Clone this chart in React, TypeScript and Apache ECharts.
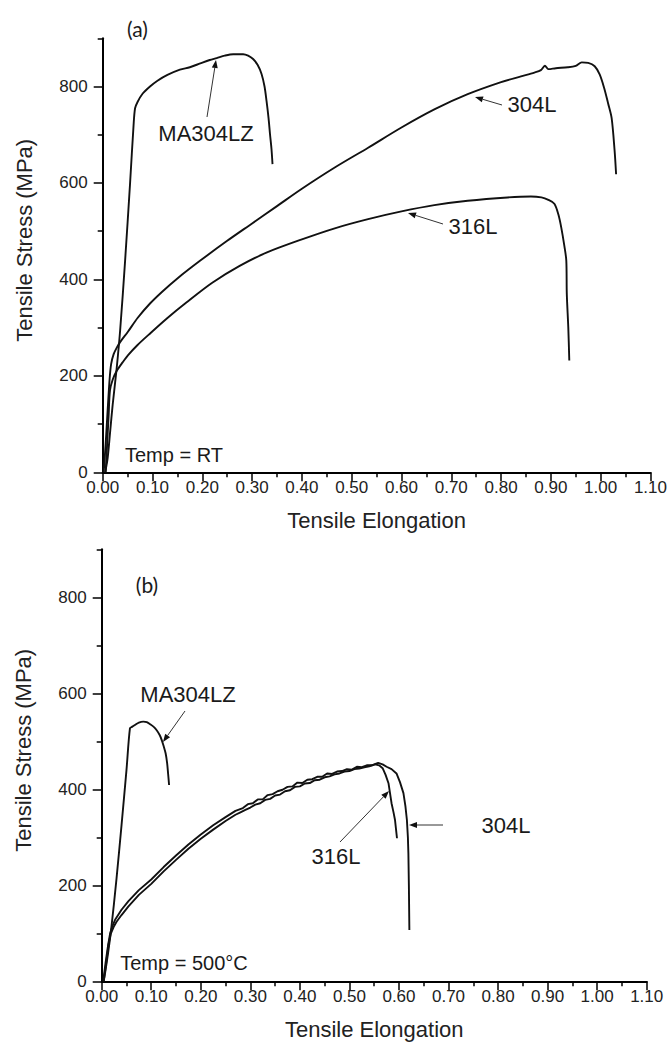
import React, { useEffect, useRef } from "react";
import * as echarts from "echarts";

// ---------- data ----------
const yMajorTicks = [0, 200, 400, 600, 800];
const yMinorTicks = [100, 300, 500, 700, 900];

// (a) room temperature  [elongation, stress MPa]
const ma304lzRT = [
  [0.005, 0], [0.010, 30], [0.015, 85], [0.020, 140], [0.028, 215], [0.035, 294],
  [0.045, 439], [0.055, 600], [0.062, 720], [0.065, 755], [0.070, 768], [0.080, 785],
  [0.095, 800], [0.110, 812], [0.130, 824], [0.155, 835], [0.175, 840], [0.196, 848],
  [0.215, 855], [0.229, 859], [0.245, 864], [0.262, 867], [0.282, 867], [0.292, 864],
  [0.302, 857], [0.311, 845], [0.319, 826], [0.325, 800], [0.329, 770], [0.333, 735],
  [0.336, 701], [0.339, 670], [0.341, 639],
];
const ss304lRT = [
  [0.002, 0], [0.006, 60], [0.010, 130], [0.014, 195], [0.017, 225], [0.022, 245],
  [0.028, 258], [0.035, 270], [0.051, 292], [0.070, 320], [0.095, 350], [0.120, 375],
  [0.150, 402], [0.196, 439], [0.250, 480], [0.300, 516], [0.350, 552], [0.400, 588],
  [0.466, 632], [0.533, 673], [0.600, 715], [0.667, 753], [0.733, 784], [0.800, 809],
  [0.840, 821], [0.867, 829], [0.880, 834], [0.888, 843], [0.895, 836], [0.910, 838],
  [0.934, 840], [0.950, 843], [0.962, 850], [0.975, 849], [0.988, 842], [0.998, 825],
  [1.007, 797], [1.015, 765], [1.022, 735], [1.028, 667], [1.031, 618],
];
const ss316lRT = [
  [0.006, 0], [0.009, 60], [0.012, 120], [0.0146, 170], [0.020, 192], [0.028, 210],
  [0.040, 228], [0.051, 243], [0.070, 264], [0.092, 285], [0.130, 320], [0.168, 352],
  [0.220, 393], [0.275, 428], [0.330, 456], [0.400, 483], [0.466, 506], [0.533, 525],
  [0.600, 541], [0.666, 554], [0.733, 563], [0.813, 570], [0.860, 572], [0.881, 570],
  [0.895, 565], [0.907, 557], [0.915, 535], [0.921, 507], [0.927, 470], [0.931, 439],
  [0.932, 370], [0.935, 300], [0.937, 232],
];

// (b) 500 °C
const ma304lz500 = [
  [0.004, 0], [0.008, 25], [0.013, 60], [0.019, 107], [0.030, 215], [0.040, 325],
  [0.050, 440], [0.057, 527], [0.061, 530], [0.067, 534], [0.075, 539], [0.084, 541],
  [0.091, 540], [0.097, 536], [0.105, 530], [0.111, 523], [0.117, 513], [0.121, 503],
  [0.125, 490], [0.129, 475], [0.132, 455], [0.134, 433], [0.136, 409],
];
const ss304l500 = [
  [0.003, 0], [0.008, 40], [0.013, 76], [0.017, 100], [0.022, 116], [0.027, 128],
  [0.040, 149], [0.054, 167], [0.075, 190], [0.100, 212], [0.125, 238], [0.150, 262],
  [0.175, 285], [0.200, 306], [0.225, 325], [0.250, 342], [0.270, 355], [0.285, 361],
  [0.295, 369], [0.305, 371], [0.315, 379], [0.325, 379], [0.335, 388], [0.345, 390],
  [0.355, 396], [0.365, 399], [0.375, 405], [0.385, 406], [0.395, 414], [0.405, 413],
  [0.415, 420], [0.425, 421], [0.435, 426], [0.445, 426], [0.455, 433], [0.465, 432],
  [0.475, 437], [0.485, 438], [0.495, 442], [0.505, 441], [0.515, 447], [0.525, 446],
  [0.535, 450], [0.545, 450], [0.558, 455], [0.567, 452], [0.575, 447], [0.585, 442],
  [0.595, 433], [0.602, 415], [0.609, 392], [0.613, 365], [0.616, 336], [0.618, 300],
  [0.619, 267], [0.620, 200], [0.621, 107],
];
const ss316l500 = [
  [0.004, 0], [0.009, 38], [0.014, 78], [0.018, 98], [0.024, 113], [0.030, 124],
  [0.040, 138], [0.054, 156], [0.075, 180], [0.100, 203], [0.125, 229], [0.150, 253],
  [0.175, 276], [0.200, 297], [0.225, 316], [0.250, 334], [0.270, 347], [0.280, 352],
  [0.290, 357], [0.300, 362], [0.310, 368], [0.320, 371], [0.330, 378], [0.340, 380],
  [0.350, 387], [0.360, 389], [0.370, 396], [0.380, 398], [0.390, 405], [0.400, 406],
  [0.410, 412], [0.420, 413], [0.430, 419], [0.440, 420], [0.450, 425], [0.460, 427],
  [0.470, 431], [0.480, 433], [0.490, 437], [0.500, 438], [0.510, 442], [0.520, 443],
  [0.530, 446], [0.540, 448], [0.552, 452], [0.560, 450], [0.567, 444], [0.573, 430],
  [0.579, 412], [0.585, 371], [0.589, 352], [0.592, 336], [0.594, 317], [0.596, 298],
];

// ---------- styling helpers ----------
const FONT = "'Liberation Sans', Arial, sans-serif";
const TAG_FONT = "Lato, 'Open Sans', sans-serif";
const INK = "#111";

function arrow(tail: number[], head: number[]) {
  const dx = head[0] - tail[0];
  const dy = head[1] - tail[1];
  const len = Math.hypot(dx, dy);
  const ux = dx / len, uy = dy / len;
  const hl = 8, hw = 3;
  const bx = head[0] - ux * hl, by = head[1] - uy * hl;
  return [
    { type: "line", silent: true, shape: { x1: tail[0], y1: tail[1], x2: bx, y2: by }, style: { stroke: "#333", lineWidth: 1 } },
    {
      type: "polygon", silent: true,
      shape: { points: [[head[0], head[1]], [bx - uy * hw, by + ux * hw], [bx + uy * hw, by - ux * hw]] },
      style: { fill: INK },
    },
  ];
}

function label(text: string, x: number, y: number, size = 22, family = FONT) {
  return {
    type: "text", silent: true, x, y,
    style: { text, fill: "#1a1a1a", font: `${size}px ${family}`, align: "center", verticalAlign: "middle" },
  };
}

function xAxis(gridIndex: number) {
  return {
    type: "value", gridIndex, min: 0, max: 1.1, interval: 0.1,
    axisLine: { show: true, onZero: false, lineStyle: { color: "#000", width: 2 } },
    axisTick: { show: true, inside: false, length: 9, lineStyle: { color: "#000", width: 1.5 } },
    minorTick: { show: true, splitNumber: 2, length: 5, lineStyle: { color: "#000", width: 1.5 } },
    splitLine: { show: false }, minorSplitLine: { show: false },
    axisLabel: { formatter: (v: number) => v.toFixed(2), fontSize: 17, color: "#222", margin: 7, fontFamily: FONT },
    name: "Tensile Elongation", nameLocation: "middle", nameGap: 37,
    nameTextStyle: { fontSize: 22, color: "#222", fontFamily: FONT },
  };
}

function yAxisMajor(gridIndex: number) {
  return {
    type: "value", gridIndex, min: 0, max: 900, position: "left",
    axisLine: { show: true, onZero: false, lineStyle: { color: "#000", width: 2 } },
    axisTick: { show: true, inside: false, length: 9, customValues: yMajorTicks, lineStyle: { color: "#000", width: 1.5 } },
    splitLine: { show: false },
    axisLabel: { customValues: yMajorTicks, fontSize: 17, color: "#222", margin: 15, fontFamily: FONT },
    name: "Tensile Stress (MPa)", nameLocation: "middle", nameGap: 67,
    nameTextStyle: { fontSize: 22, color: "#222", fontFamily: FONT, padding: [0, 0, 0, 30] },
  };
}

function yAxisMinor(gridIndex: number) {
  return {
    type: "value", gridIndex, min: 0, max: 900, position: "left",
    axisLine: { show: false },
    axisTick: { show: true, inside: false, length: 5, customValues: yMinorTicks, lineStyle: { color: "#000", width: 1.5 } },
    splitLine: { show: false },
    axisLabel: { show: false },
  };
}

function curve(name: string, data: number[][], grid: number, smooth: number | boolean = false) {
  return {
    type: "line", name, data, xAxisIndex: grid, yAxisIndex: grid * 2,
    showSymbol: false, symbol: "none", silent: true,
    smooth,
    lineStyle: { color: INK, width: 1.9 },
  };
}

export default function App() {
  const ref = useRef<HTMLDivElement>(null);

  useEffect(() => {
    if (!ref.current) return;
    const chart = echarts.init(ref.current, undefined, { renderer: "svg" });
    chart.setOption({
      animation: false,
      backgroundColor: "#fff",
      grid: [
        { left: 102.7, top: 38.3, width: 548.3, height: 434 },
        { left: 101.7, top: 549.3, width: 545, height: 432 },
      ],
      xAxis: [xAxis(0), xAxis(1)],
      yAxis: [yAxisMajor(0), yAxisMinor(0), yAxisMajor(1), yAxisMinor(1)],
      series: [
        curve("MA304LZ", ma304lzRT, 0, 0.3),
        curve("304L", ss304lRT, 0, 0.3),
        curve("316L", ss316lRT, 0, 0.3),
        curve("MA304LZ", ma304lz500, 1, 0.3),
        curve("304L", ss304l500, 1),
        curve("316L", ss316l500, 1),
      ],
      graphic: [
        label("(a)", 137.5, 28, 21, TAG_FONT),
        label("MA304LZ", 206, 133),
        ...arrow([207, 117], [216, 60]),
        label("304L", 532, 104),
        ...arrow([502, 105], [475, 97]),
        label("316L", 473, 226),
        ...arrow([443, 224], [408, 213]),
        label("Temp = RT", 174, 455, 20),

        label("(b)", 147, 584, 21, TAG_FONT),
        label("MA304LZ", 188, 694),
        ...arrow([185, 711], [163, 742]),
        label("316L", 336, 856),
        ...arrow([340, 842], [389, 791]),
        label("304L", 506, 825),
        ...arrow([443, 825], [409, 825]),
        label("Temp = 500°C", 184, 963, 20),
      ],
    });
    return () => chart.dispose();
  }, []);

  return (
    <div
      ref={ref}
      style={{ position: "absolute", left: 0, top: 0, width: 670, height: 1045, background: "#fff" }}
    />
  );
}
